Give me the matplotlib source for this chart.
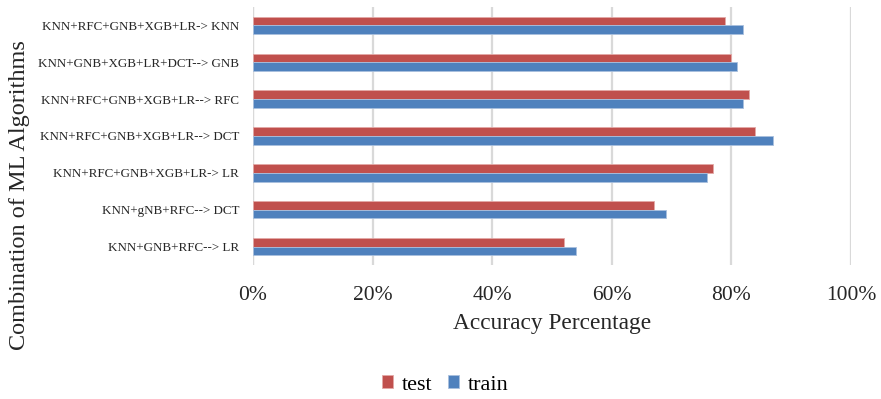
import matplotlib
matplotlib.use("Agg")
import matplotlib.pyplot as plt
import numpy as np
from matplotlib.ticker import PercentFormatter

categories = [
    "KNN+RFC+GNB+XGB+LR-> KNN",
    "KNN+GNB+XGB+LR+DCT--> GNB",
    "KNN+RFC+GNB+XGB+LR--> RFC",
    "KNN+RFC+GNB+XGB+LR--> DCT",
    "KNN+RFC+GNB+XGB+LR-> LR",
    "KNN+gNB+RFC--> DCT",
    "KNN+GNB+RFC--> LR",
]
test = [0.79, 0.80, 0.83, 0.84, 0.77, 0.67, 0.52]
train = [0.82, 0.81, 0.82, 0.87, 0.76, 0.69, 0.54]
xticks = [0.0, 0.2, 0.4, 0.6, 0.8, 1.0]

plt.rcParams['font.family'] = ['Liberation Serif', 'DejaVu Serif']

fig = plt.figure(figsize=(8.81, 3.99), dpi=100)
ax = fig.add_axes([253 / 881, 1 - 265 / 399, (851 - 253) / 881, (265 - 7) / 399])

red = "#C0504D"
blue = "#4F81BD"
y = np.arange(len(categories))
h = 0.235
ax.barh(y - h / 2, test, height=h, color=red, edgecolor="#E3A9A7", linewidth=0.6, label="test", zorder=3)
ax.barh(y + h / 2, train, height=h, color=blue, edgecolor="#A9C0DE", linewidth=0.6, label="train", zorder=3)

ax.set_ylim(len(categories) - 0.5, -0.5)
ax.set_xlim(0, 1.0)
ax.set_xticks(xticks)
ax.xaxis.set_major_formatter(PercentFormatter(1.0, decimals=0))
ax.set_yticks(y)
ax.set_yticklabels(categories, fontsize=9.4, color="#262626")
ax.tick_params(axis="x", labelsize=15.5, length=0, pad=15, colors="#262626")
ax.tick_params(axis="y", length=0, pad=10)

ax.grid(axis="x", color="#D9D9D9", linewidth=1.6, zorder=0)
for s in ax.spines.values():
    s.set_visible(False)
ax.axvline(0, color="#D9D9D9", linewidth=1.6, zorder=1)

ax.set_xlabel("Accuracy Percentage", fontsize=16.8, color="#262626", labelpad=6)
fig.text(20 / 881, 1 - 195 / 399, "Combination of ML Algorithms", rotation=90,
         fontsize=17.5, color="#262626", ha="center", va="center")

leg = fig.legend(loc="center", bbox_to_anchor=(445 / 881, 1 - 385 / 399), ncol=2,
                 frameon=False, fontsize=16, handlelength=0.5, handleheight=0.5,
                 handletextpad=0.4, columnspacing=0.7)

fig.savefig("out.png", dpi=100)
